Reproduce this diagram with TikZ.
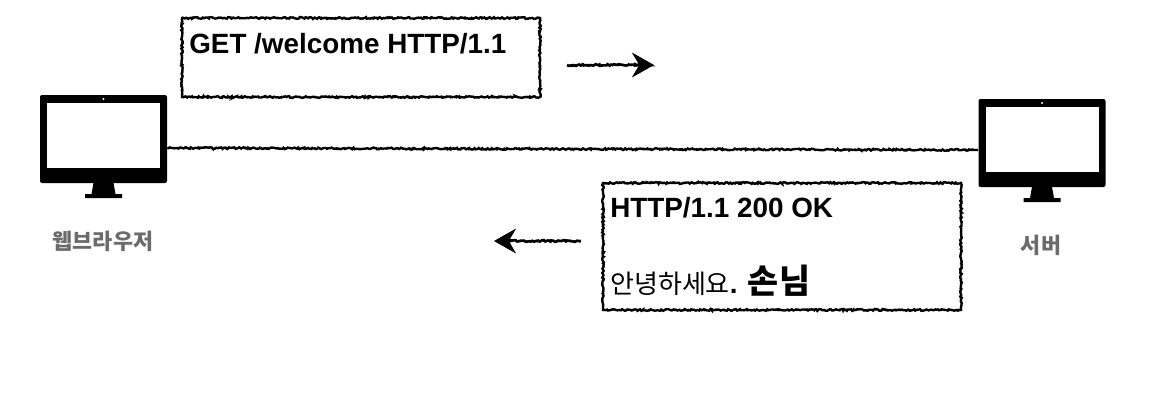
\documentclass[tikz,border=0pt]{standalone}
\usepackage{fontspec}
\setmainfont{Liberation Sans}
\newfontfamily\krfont{Noto Sans CJK KR}
\usetikzlibrary{arrows.meta,decorations.pathmorphing}

\tikzset{
	rough/.style={decorate, decoration={random steps, segment length=1pt, amplitude=0.6pt, post length=3pt}},
	msgbox/.style={draw=black, line width=1.7pt, rough, inner sep=0pt},
	msgtext/.style={anchor=base west, inner sep=0pt, font=\fontsize{19.8pt}{22pt}\selectfont\bfseries},
	devicetext/.style={inner sep=0pt, text=black!58, font=\fontsize{15.5pt}{18pt}\selectfont\krfont\bfseries},
	wire/.style={line width=1.7pt, rough},
	flow/.style={line width=1.9pt, rough, -{Stealth[length=0.55cm, width=0.62cm, inset=0.18cm]}},
	monitorbody/.style={fill=black, rounded corners=0.05cm, minimum width=3.175cm, minimum height=2.2cm, inner sep=0pt},
	monitorscreen/.style={fill=white, minimum width=2.825cm, minimum height=1.625cm, inner sep=0pt},
	monitor/.pic={
		\node[monitorbody] (body) at (0,0) {};
		\node[monitorscreen] (screen) at (0,0.0875) {};
		\fill[white] (0,1) circle (0.03);
		\fill[black] (-0.25,-1.1) -- (0.25,-1.1) -- (0.3,-1.375) -- (0.4625,-1.375) -- (0.4625,-1.475)
			-- (-0.4625,-1.475) -- (-0.4625,-1.375) -- (-0.3,-1.375) -- cycle;
	}
}

\begin{document}
\begin{tikzpicture}
	\useasboundingbox (0,0) rectangle (29,10.175);
	
	\pic (browser) at (2.5875,6.7) {monitor};
	\pic (server) at (26.05,6.6) {monitor};
	\node[devicetext] (browserlabel) at (2.575,4.15) {웹브라우저};
	\node[devicetext] (serverlabel) at (26.025,4.05) {서버};
	
	\draw[wire] ([yshift=-0.225cm]browserbody.east) -- ([yshift=-0.175cm]serverbody.west);
	
	\node[msgbox, minimum width=8.95cm, minimum height=1.975cm] (request) at (9.025,8.7375) {};
	\node[msgtext] (requestline) at (4.725,8.84) {GET /welcome HTTP/1.1};
	
	\node[msgbox, minimum width=8.95cm, minimum height=3.175cm] (response) at (19.55,4.0125) {};
	\node[msgtext] (statusline) at (15.25,4.75) {HTTP/1.1 200 OK};
	\node[msgtext] (bodyline) at (15.25,2.85) {{\fontsize{18.5pt}{22pt}\selectfont\krfont\mdseries 안녕하세요}. {\fontsize{24pt}{26pt}\selectfont\krfont 손님}};
	
	\coordinate (requestfrom) at (14.175,8.55);
	\coordinate (requestto) at (16.35,8.55);
	\coordinate (responsefrom) at (14.525,4.15);
	\coordinate (responseto) at (12.35,4.15);
	\draw[flow] (requestfrom) -- (requestto);
	\draw[flow] (responsefrom) -- (responseto);
\end{tikzpicture}
\end{document}
